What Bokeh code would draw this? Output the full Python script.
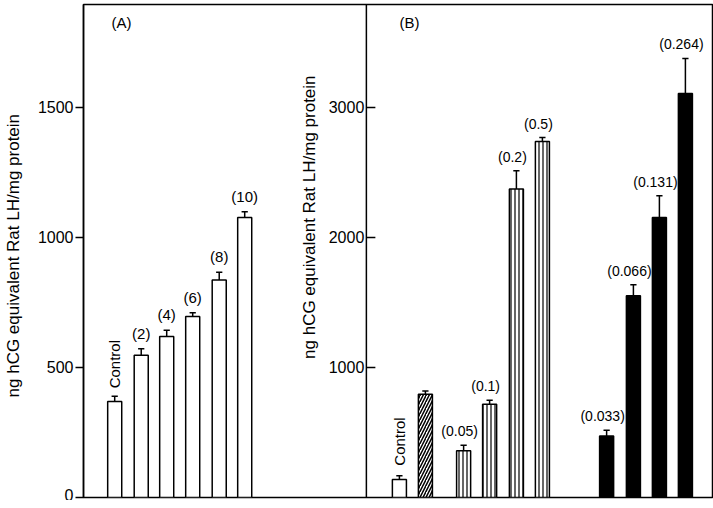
import math
from bokeh.plotting import figure
from bokeh.models import Range1d, LinearAxis, FixedTicker, Span, Label
from bokeh.core.properties import value
from bokeh.embed import file_html
from bokeh.resources import INLINE

FONT = "Liberation Sans"

# Panel A
a_labels = ["Control", "(2)", "(4)", "(6)", "(8)", "(10)"]
a_values = [369, 547, 619, 696, 836, 1077]
a_errors = [20, 25, 24, 15, 30, 22]
a_x = [1.2, 2.22, 3.2, 4.2, 5.22, 6.2]

# Panel B
b_labels = ["Control", "", "(0.05)", "(0.1)", "(0.2)", "(0.5)", "(0.033)", "(0.066)", "(0.131)", "(0.264)"]
b_values = [138, 795, 359, 718, 2372, 2738, 474, 1551, 2154, 3108]
b_errors = [30, 25, 43, 30, 141, 31, 43, 85, 167, 269]
b_x = [12.15, 13.15, 14.62, 15.62, 16.65, 17.65, 20.12, 21.15, 22.15, 23.15]
b_style = ["open", "diag", "vert", "vert", "vert", "vert", "solid", "solid", "solid", "solid"]

a_ticks = [0, 500, 1000, 1500]
b_ticks = [1000, 2000, 3000]
ylabel = "ng hCG equivalent  Rat  LH/mg protein"
DIV = 10.88
W = 0.54

p = figure(width=713, height=500, output_backend="svg", toolbar_location=None,
           x_range=Range1d(0, 630 / 26), y_range=Range1d(0, 1896),
           min_border_left=83, min_border_right=0, min_border_top=4, min_border_bottom=3,
           y_axis_location=None, x_axis_location=None)
p.extra_y_ranges = {"B": Range1d(0, 3792)}
p.grid.visible = False
p.outline_line_color = "black"
p.outline_line_width = 1.5
p.background_fill_color = "white"
p.border_fill_color = "white"

ax = LinearAxis(ticker=FixedTicker(ticks=a_ticks, minor_ticks=[]), axis_label=ylabel)
ax.major_tick_out = 8
ax.major_tick_in = 0
ax.major_label_standoff = 2
ax.axis_line_width = 1.5
ax.major_tick_line_width = 1.5
ax.major_label_text_font = FONT
ax.major_label_text_font_size = "16px"
ax.major_label_text_color = "black"
ax.axis_label_text_font = FONT
ax.axis_label_text_font_size = "17px"
ax.axis_label_text_font_style = "normal"
ax.axis_label_text_color = "black"
ax.axis_label_standoff = 12
p.add_layout(ax, "left")

# Panel A bars
p.vbar(x=a_x, top=a_values, width=W, fill_color="white", line_color="black", line_width=1.5)
a_tops = [v + e for v, e in zip(a_values, a_errors)]
p.segment(x0=a_x, y0=a_values, x1=a_x, y1=a_tops, line_color="black", line_width=1.5)
p.segment(x0=[x - 0.12 for x in a_x], y0=a_tops, x1=[x + 0.12 for x in a_x], y1=a_tops,
          line_color="black", line_width=1.5)
p.text(x=a_x[1:], y=a_tops[1:], text=a_labels[1:], text_font=value(FONT), text_font_size="15px",
       text_align="center", text_baseline="bottom", y_offset=-7, text_color="black")
p.text(x=[a_x[0]], y=[a_tops[0]], text=[a_labels[0]], text_font=value(FONT), text_font_size="15px",
       text_align="left", text_baseline="middle", angle=math.pi / 2, y_offset=-8, text_color="black")

# Divider and B axis
p.add_layout(Span(location=DIV, dimension="height", line_color="black", line_width=1.5))
p.segment(x0=[DIV] * 3, y0=b_ticks, x1=[DIV + 9 / 26] * 3, y1=b_ticks, y_range_name="B",
          line_color="black", line_width=1.5)
p.text(x=[DIV - 0.08] * 3, y=b_ticks, text=[str(t) for t in b_ticks], y_range_name="B",
       text_font=value(FONT), text_font_size="16px", text_align="right", text_baseline="middle",
       text_color="black")

# Panel B bars
for st in ["open", "diag", "vert", "solid"]:
    ii = [i for i, s in enumerate(b_style) if s == st]
    kw = dict(x=[b_x[i] for i in ii], top=[b_values[i] for i in ii], width=W, y_range_name="B",
              line_color="black", line_width=1.5)
    if st == "open":
        p.vbar(fill_color="white", **kw)
    elif st == "diag":
        p.vbar(fill_color="white", hatch_pattern="right_diagonal_line", hatch_scale=6,
               hatch_weight=1.5, hatch_color="black", **kw)
    elif st == "vert":
        p.vbar(fill_color="white", hatch_pattern="vertical_line", hatch_scale=4,
               hatch_weight=1.2, hatch_color="black", **kw)
    else:
        p.vbar(fill_color="black", **kw)

b_tops = [v + e for v, e in zip(b_values, b_errors)]
p.segment(x0=b_x, y0=b_values, x1=b_x, y1=b_tops, y_range_name="B", line_color="black", line_width=1.5)
p.segment(x0=[x - 0.12 for x in b_x], y0=b_tops, x1=[x + 0.12 for x in b_x], y1=b_tops,
          y_range_name="B", line_color="black", line_width=1.5)
lab_i = [i for i in range(len(b_labels)) if b_labels[i] and b_labels[i] != "Control"]
p.text(x=[b_x[i] for i in lab_i], y=[b_tops[i] for i in lab_i], text=[b_labels[i] for i in lab_i],
       y_range_name="B", text_font=value(FONT), text_font_size="14px",
       text_align="center", text_baseline="bottom", y_offset=-6, x_offset=-4, text_color="black")
p.text(x=[b_x[0]], y=[b_tops[0]], text=[b_labels[0]], y_range_name="B", text_font=value(FONT),
       text_font_size="15px", text_align="left", text_baseline="middle", angle=math.pi / 2,
       y_offset=-10, text_color="black")

# Axis title of panel B and panel letters
p.add_layout(Label(x=8.7, y=(505 - 220) / 0.13, y_range_name="B", text=ylabel, angle=math.pi / 2,
                   text_align="center", text_baseline="middle", text_font=FONT, text_font_size="17px",
                   text_color="black"))
p.add_layout(Label(x=(122 - 84) / 26, y=(505 - 30) / 0.26, text="(A)", text_align="center",
                   text_baseline="middle", text_font=FONT, text_font_size="15px", text_color="black"))
p.add_layout(Label(x=(410 - 84) / 26, y=(505 - 30) / 0.26, text="(B)", text_align="center",
                   text_baseline="middle", text_font=FONT, text_font_size="15px", text_color="black"))

open("out.html", "w").write(file_html(p, INLINE))
